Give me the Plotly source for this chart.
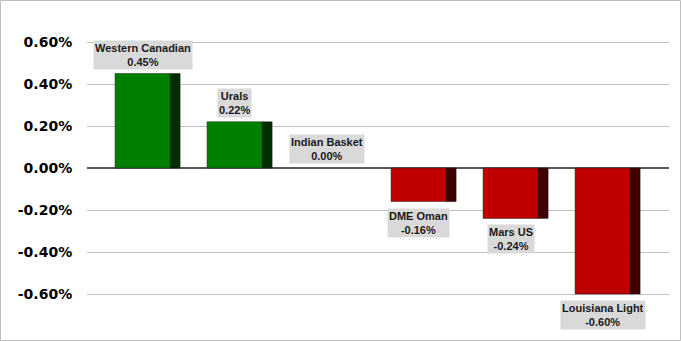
import plotly.graph_objects as go

categories = ["Western Canadian", "Urals", "Indian Basket", "DME Oman", "Mars US", "Louisiana Light"]
values = [0.45, 0.22, 0.00, -0.16, -0.24, -0.60]
tick_vals = [0.6, 0.4, 0.2, 0.0, -0.2, -0.4, -0.6]
tick_text = ["0.60%", "0.40%", "0.20%", "0.00%", "-0.20%", "-0.40%", "-0.60%"]

front_colors = ["#008000" if v >= 0 else "#c00000" for v in values]
side_colors = ["#002e00" if v >= 0 else "#400000" for v in values]
line_widths = [0.5 if v != 0 else 0 for v in values]

xs = list(range(len(categories)))
FRONT_OFF, FRONT_W = -0.353, 0.598
SIDE_OFF, SIDE_W = 0.245, 0.109

fig = go.Figure()
fig.add_trace(go.Bar(x=xs, y=values, offset=SIDE_OFF, width=SIDE_W,
                     marker=dict(color=side_colors, line=dict(width=line_widths, color="#1a1a1a")),
                     hoverinfo="skip", showlegend=False))
fig.add_trace(go.Bar(x=xs, y=values, offset=FRONT_OFF, width=FRONT_W,
                     marker=dict(color=front_colors, line=dict(width=line_widths, color="#1a1a1a")),
                     showlegend=False))

for i, (c, v) in enumerate(zip(categories, values)):
    xc = i + FRONT_OFF + FRONT_W / 2
    pos = v >= 0
    fig.add_annotation(x=xc, y=v, xref="x", yref="y",
                       text=f"<b>{c}</b><br><b>{v:.2f}%</b>",
                       showarrow=False,
                       yanchor="bottom" if pos else "top",
                       yshift=4 if pos else -6,
                       bgcolor="#d9d9d9", borderpad=1,
                       font=dict(family="Liberation Sans, Arial", size=11, color="#1a1a1a"))

L, R, T, B = 87, 12, 28, 33
W, H = 681, 341
pw, ph = W - L - R, H - T - B
fig.add_shape(type="rect", xref="paper", yref="paper",
              x0=(0.5 - L) / pw, x1=(W - 0.5 - L) / pw,
              y0=-(B - 0.5) / ph, y1=1 + (T - 0.5) / ph,
              line=dict(color="#bfbfbf", width=1), fillcolor="rgba(0,0,0,0)", layer="below")

fig.update_layout(
    width=W, height=H,
    margin=dict(l=L, r=R, t=T, b=B),
    paper_bgcolor="white", plot_bgcolor="white",
    barmode="overlay",
    xaxis=dict(range=[-0.658, 5.668], showticklabels=False, showgrid=False,
               zeroline=False, showline=False, fixedrange=True),
    yaxis=dict(range=[-2/3, 2/3], tickvals=tick_vals, ticktext=tick_text,
               showgrid=True, gridcolor="#bfbfbf", gridwidth=1.3,
               zeroline=True, zerolinecolor="#595959", zerolinewidth=2,
               ticks="outside", ticklen=11, tickcolor="rgba(0,0,0,0)",
               tickfont=dict(family="DejaVu Sans", size=14, color="#000000", weight="bold")),
    showlegend=False,
)

fig.write_html("out.html")
